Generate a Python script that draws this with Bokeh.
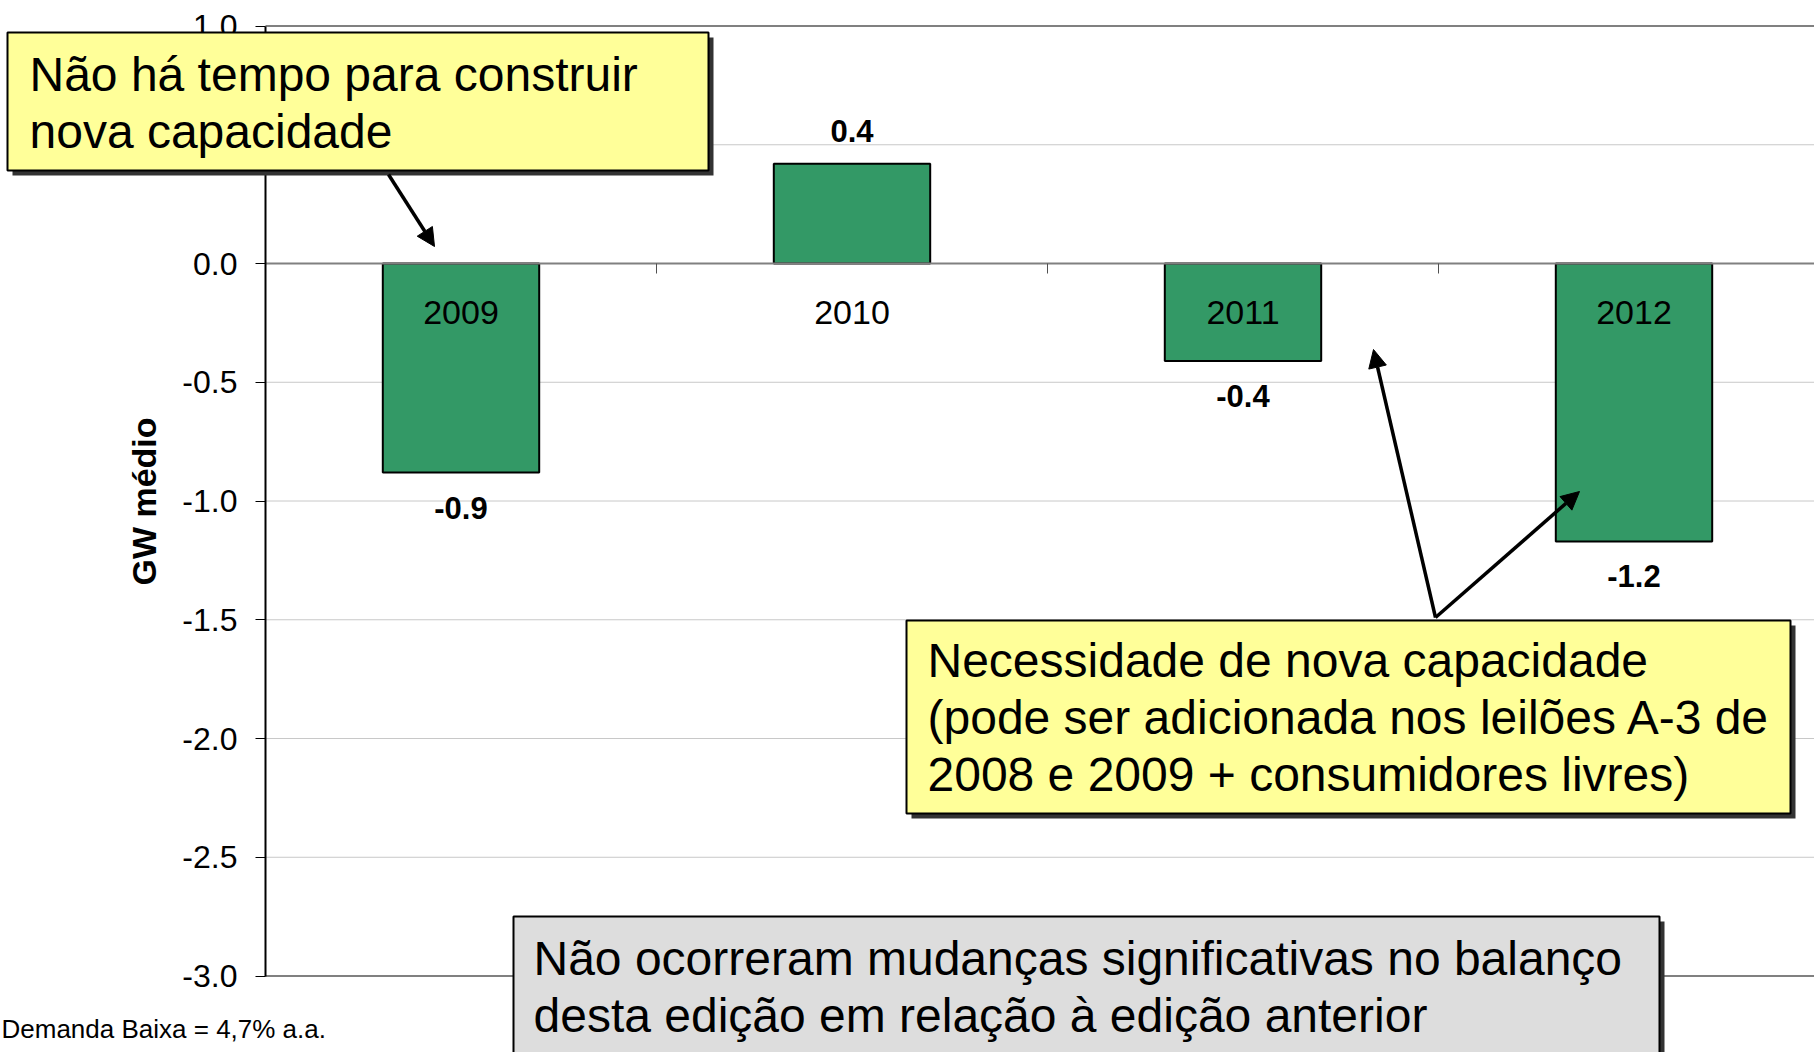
from bokeh.plotting import figure
from bokeh.models import (Range1d, LinearAxis, FixedTicker, PrintfTickFormatter, BoxAnnotation,
                          Label, Arrow, NormalHead, ColumnDataSource)
from bokeh.core.properties import value
from bokeh.embed import file_html
from bokeh.resources import INLINE

# ---------------- data ----------------
years = ["2009", "2010", "2011", "2012"]
balance_gw = [-0.88, 0.42, -0.41, -1.17]
y_ticks = [-3.0, -2.5, -2.0, -1.5, -1.0, -0.5, 0.0, 0.5, 1.0]
y_title = "GW médio"
box1_lines = ["Não há tempo para construir", "nova capacidade"]
box2_lines = ["Necessidade de nova capacidade",
              "(pode ser adicionada nos leilões A-3 de",
              "2008 e 2009 + consumidores livres)"]
box3_lines = ["Não ocorreram mudanças significativas no balanço",
              "desta edição em relação à edição anterior"]
footnote = "Demanda Baixa = 4,7% a.a."

# ---------------- layout (page pixels) ----------------
W, H = 1814, 1052
AX_X = 265.0       # page x of category start (y axis)
BAND = 391.0       # px per category
TOP_Y = 25.5       # page y of the top tick
PPU = 237.5        # px per GW
Y0, Y1 = y_ticks[0], y_ticks[-1]
FONT = "Liberation Sans"


def X(px):
    return (px - AX_X) / BAND


def Y(py):
    return Y1 - (py - TOP_Y) / PPU


x_start, x_end = X(0), X(W)
y_start, y_end = Y(H), Y(0)

p = figure(width=W, height=H, x_range=Range1d(x_start, x_end), y_range=Range1d(y_start, y_end),
           output_backend="svg", toolbar_location=None, x_axis_location=None, y_axis_location=None,
           min_border=0, min_border_left=0, min_border_right=0, min_border_top=0, min_border_bottom=0)
p.outline_line_color = None
p.background_fill_color = "white"
p.border_fill_color = "white"
p.grid.visible = False

# gridlines (only over the plot area)
inner = [t for t in y_ticks if Y0 < t < Y1]
p.segment(x0=0, x1=x_end, y0=inner, y1=inner, line_color="#c8c8c8", line_width=1)
p.segment(x0=0, x1=x_end, y0=[Y0, Y1], y1=[Y0, Y1], line_color="#808080", line_width=2)

# bars
centers = [i + 0.5 for i in range(len(years))]
bounds = [i for i in range(1, len(years))]
src = ColumnDataSource(dict(
    x=centers, top=balance_gw,
    label=["%.1f" % v for v in balance_gw],
    off=[35 if v < 0 else -33 for v in balance_gw]))
p.vbar(x="x", top="top", bottom=0, width=0.4, source=src,
       fill_color="#339966", line_color="black", line_width=2)
p.text(x="x", y="top", text="label", y_offset="off", source=src,
       text_font=value(FONT), text_font_style="bold", text_font_size="31px",
       text_align="center", text_baseline="middle", text_color="black")

# y axis
yt = FixedTicker(ticks=y_ticks)
yax = LinearAxis(fixed_location=0, bounds=(Y0, Y1), ticker=yt,
                 formatter=PrintfTickFormatter(format="%.1f"),
                 axis_line_color="black", axis_line_width=2,
                 major_tick_line_color="black", major_tick_in=0, major_tick_out=10,
                 minor_tick_line_color=None, major_label_standoff=18,
                 major_label_text_font=FONT, major_label_text_font_size="32px",
                 major_label_text_color="black",
                 axis_label=y_title, axis_label_text_font=FONT, axis_label_text_font_size="34px",
                 axis_label_text_font_style="bold", axis_label_text_color="black",
                 axis_label_standoff=16)
p.add_layout(yax, "left")

# category axis at zero
xax = LinearAxis(fixed_location=0, bounds=(0, x_end),
                 ticker=FixedTicker(ticks=centers, minor_ticks=bounds),
                 major_label_overrides={c: y for c, y in zip(centers, years)},
                 axis_line_color="#808080", axis_line_width=2,
                 major_tick_line_color=None, major_tick_in=0, major_tick_out=0,
                 minor_tick_line_color="#505050", minor_tick_in=0, minor_tick_out=10,
                 major_label_standoff=27, major_label_text_font=FONT,
                 major_label_text_font_size="34px", major_label_text_color="black")
p.add_layout(xax, "below")


# ---------------- callouts ----------------
def text_line(txt, px, baseline, size):
    # Bokeh places the alphabetic baseline somewhat lower than the given y
    p.add_layout(Label(x=X(px), y=Y(baseline - 0.36 * size), text=txt, text_font=FONT,
                       text_font_size="%dpx" % size, text_color="black", text_align="left",
                       text_baseline="alphabetic", level="overlay"))


def callout(l, t, r, b, fill, lines, text_x, baselines):
    p.add_layout(BoxAnnotation(left=X(l + 5), right=X(r + 5), top=Y(t + 5), bottom=Y(b + 5),
                               fill_color="#333333", fill_alpha=1, line_color=None, level="overlay"))
    p.add_layout(BoxAnnotation(left=X(l), right=X(r), top=Y(t), bottom=Y(b),
                               fill_color=fill, fill_alpha=1, line_color="black", line_width=2,
                               line_alpha=1, level="overlay"))
    for txt, by in zip(lines, baselines):
        text_line(txt, text_x, by, 48)


callout(7, 32, 708, 170, "#ffff99", box1_lines, 29, [91, 148])
callout(906, 620, 1790, 813, "#ffff99", box2_lines, 927, [677, 734, 791])
callout(513, 916, 1659, 1120, "#dddddd", box3_lines, 533, [975, 1032])


def arrow(x0, y0, x1, y1):
    p.add_layout(Arrow(x_start=X(x0), y_start=Y(y0), x_end=X(x1), y_end=Y(y1),
                       line_color="black", line_width=3.5,
                       end=NormalHead(size=18, fill_color="black", line_color="black", line_width=1),
                       level="overlay"))


arrow(388, 174, 434, 246)
arrow(1435, 617, 1373, 349)
arrow(1435, 617, 1579, 491)

text_line(footnote, 1, 1038, 26)

open("out.html", "w").write(file_html(p, INLINE))
